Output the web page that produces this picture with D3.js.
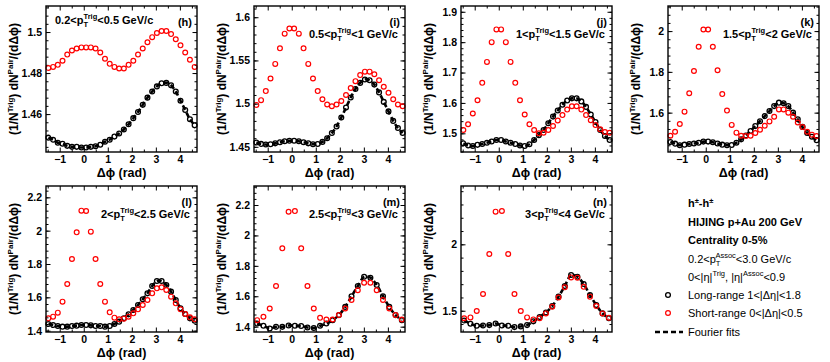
<!DOCTYPE html>
<html>
<head>
<meta charset="utf-8">
<script src="https://cdn.jsdelivr.net/npm/d3@7"></script>
<style>
  body { margin: 0; background: #fff; }
  svg { font-family: "Liberation Sans", Arial, sans-serif; }
</style>
</head>
<body>
<svg id="chart" width="830" height="362"></svg>
<script>
// delta-phi bin centres (32 and 24 bins over [-pi/2, 3pi/2])
const dphi32 = [-1.4726, -1.2763, -1.0799, -0.8836, -0.6872, -0.4909, -0.2945, -0.0982,
    0.0982, 0.2945, 0.4909, 0.6872, 0.8836, 1.0799, 1.2763, 1.4726,
    1.6690, 1.8653, 2.0617, 2.2580, 2.4544, 2.6507, 2.8471, 3.0434,
    3.2398, 3.4361, 3.6325, 3.8288, 4.0252, 4.2215, 4.4179, 4.6142];
const dphi24 = [-1.4399, -1.1781, -0.9163, -0.6545, -0.3927, -0.1309, 0.1309, 0.3927,
    0.6545, 0.9163, 1.1781, 1.4399, 1.7017, 1.9635, 2.2253, 2.4871,
    2.7489, 3.0107, 3.2725, 3.5343, 3.7961, 4.0579, 4.3197, 4.5815];

const panelTags = ['(h)', '(i)', '(j)', '(k)', '(l)', '(m)', '(n)'];
const ptLow = ['0.2', '0.5', '1', '1.5', '2', '2.5', '3'];
const ptHigh = ['0.5', '1', '1.5', '2', '2.5', '3', '4'];

// short-range (red) and long-range (black) per panel
const shortH = [1.4825, 1.483, 1.484, 1.486, 1.489, 1.491, 1.492, 1.4925, 1.4925, 1.4925, 1.492, 1.490,
    1.487, 1.4845, 1.483, 1.4822, 1.4822, 1.484, 1.486, 1.489, 1.492, 1.495, 1.4975, 1.4995,
    1.5005, 1.5005, 1.499, 1.4965, 1.4935, 1.490, 1.4865, 1.483];
const longH = [1.4485, 1.4475, 1.446, 1.4455, 1.4445, 1.444, 1.444, 1.4437, 1.4437, 1.444, 1.4443, 1.445,
    1.4465, 1.4475, 1.449, 1.4505, 1.4525, 1.455, 1.458, 1.461, 1.4645, 1.468, 1.471, 1.4735,
    1.475, 1.4752, 1.474, 1.471, 1.4665, 1.462, 1.4575, 1.4545];

const shortI = [1.4985, 1.504, 1.5145, 1.529, 1.546, 1.564, 1.581, 1.587, 1.587, 1.581, 1.564, 1.546,
    1.529, 1.5145, 1.505, 1.499, 1.497, 1.499, 1.503, 1.510, 1.518, 1.526, 1.533, 1.537,
    1.537, 1.534, 1.527, 1.5195, 1.5125, 1.505, 1.499, 1.497];
const longI = [1.455, 1.4534, 1.4526, 1.453, 1.454, 1.4553, 1.4565, 1.457, 1.457, 1.4565, 1.4553, 1.454,
    1.453, 1.4532, 1.4557, 1.460, 1.466, 1.4736, 1.484, 1.4954, 1.507, 1.517, 1.524, 1.528,
    1.527, 1.522, 1.513, 1.502, 1.491, 1.480, 1.4717, 1.466];

const shortJ = [1.511, 1.530, 1.565, 1.609, 1.666, 1.735, 1.800, 1.842, 1.842, 1.800, 1.735, 1.666,
    1.609, 1.562, 1.530, 1.511, 1.500, 1.502, 1.511, 1.524, 1.542, 1.560, 1.578, 1.589,
    1.589, 1.578, 1.560, 1.543, 1.527, 1.513, 1.504, 1.502];
const longJ = [1.467, 1.460, 1.458, 1.462, 1.465, 1.469, 1.473, 1.478, 1.478, 1.473, 1.469, 1.465,
    1.460, 1.458, 1.464, 1.478, 1.494, 1.511, 1.533, 1.555, 1.575, 1.594, 1.608, 1.615,
    1.615, 1.605, 1.587, 1.562, 1.537, 1.511, 1.491, 1.478];

const shortK = [1.487, 1.506, 1.544, 1.605, 1.695, 1.804, 1.923, 2.008, 2.008, 1.923, 1.808, 1.691,
    1.610, 1.540, 1.502, 1.487, 1.485, 1.487, 1.500, 1.516, 1.536, 1.557, 1.580, 1.616,
    1.616, 1.600, 1.580, 1.552, 1.529, 1.506, 1.492, 1.485];
const longK = [1.456, 1.448, 1.440, 1.443, 1.446, 1.449, 1.452, 1.458, 1.458, 1.455, 1.449, 1.443,
    1.440, 1.441, 1.452, 1.469, 1.488, 1.510, 1.534, 1.558, 1.583, 1.608, 1.632, 1.649,
    1.646, 1.632, 1.600, 1.567, 1.530, 1.500, 1.482, 1.465];

const shortL = [1.474, 1.484, 1.508, 1.574, 1.680, 1.830, 1.990, 2.120, 2.118, 1.994, 1.830, 1.680,
    1.574, 1.510, 1.478, 1.468, 1.472, 1.484, 1.504, 1.528, 1.554, 1.584, 1.624, 1.654,
    1.660, 1.644, 1.604, 1.564, 1.528, 1.500, 1.480, 1.468];
const longL = [1.440, 1.434, 1.428, 1.424, 1.424, 1.428, 1.430, 1.434, 1.434, 1.432, 1.428, 1.428,
    1.424, 1.428, 1.440, 1.454, 1.474, 1.498, 1.524, 1.554, 1.588, 1.624, 1.668, 1.698,
    1.698, 1.674, 1.634, 1.584, 1.534, 1.500, 1.474, 1.460];

const shortM = [1.443, 1.465, 1.520, 1.667, 1.915, 2.156, 2.160, 1.915, 1.667, 1.520, 1.458, 1.447,
    1.447, 1.476, 1.520, 1.575, 1.640, 1.689, 1.689, 1.640, 1.575, 1.520, 1.476, 1.447];
const longM = [1.421, 1.406, 1.388, 1.399, 1.399, 1.408, 1.406, 1.404, 1.395, 1.391, 1.406, 1.421,
    1.443, 1.476, 1.530, 1.600, 1.667, 1.728, 1.722, 1.674, 1.600, 1.530, 1.476, 1.443];

const shortN = [1.443, 1.450, 1.498, 1.626, 1.927, 2.246, 2.251, 1.927, 1.626, 1.498, 1.450, 1.435,
    1.443, 1.480, 1.530, 1.600, 1.676, 1.751, 1.749, 1.680, 1.606, 1.535, 1.480, 1.448];
const longN = [1.427, 1.402, 1.387, 1.389, 1.392, 1.404, 1.389, 1.387, 1.377, 1.382, 1.392, 1.420,
    1.452, 1.487, 1.535, 1.606, 1.686, 1.769, 1.756, 1.701, 1.618, 1.543, 1.480, 1.443];

const shortRange = [shortH, shortI, shortJ, shortK, shortL, shortM, shortN];
const longRange = [longH, longI, longJ, longK, longL, longM, longN];
const binSets = [dphi32, dphi32, dphi32, dphi32, dphi32, dphi24, dphi24];

const yDomains = [[1.4415, 1.5127], [1.444, 1.613], [1.4385, 1.919], [1.407, 2.123],
    [1.392, 2.268], [1.365, 2.325], [1.34, 2.439]];
const yTickVals = [[1.46, 1.48, 1.5], [1.45, 1.5, 1.55, 1.6], [1.5, 1.6, 1.7, 1.8, 1.9],
    [1.6, 1.8, 2], [1.4, 1.6, 1.8, 2, 2.2], [1.4, 1.6, 1.8, 2, 2.2], [1.5, 2]];
const yMinorStep = [0.004, 0.01, 0.02, 0.04, 0.04, 0.04, 0.1];
const xTickVals = [-1, 0, 1, 2, 3, 4];
const xDomain = [-Math.PI / 2, 3 * Math.PI / 2];

const colLeft = [46, 254, 461, 668];
const rowTop = [6, 186];
const W = 151, H = 146;
const RED = '#ff0000';
const PHI = '\u03d5';

const svg = d3.select('#chart');

// writes a run of text pieces with sub/superscripts into a <text>
function rich(text, parts) {
    parts.forEach(p => {
        const ts = text.append('tspan').text(p.t);
        if (p.size) ts.attr('font-size', p.size);
        if (p.dy) ts.attr('dy', p.dy);
        if (p.dx) ts.attr('dx', p.dx);
    });
    return text;
}

function ptLabel(lo, hi) {
    return [
        { t: lo + '<p' },
        { t: 'T', size: 7.5, dy: 3 },
        { t: 'Trig', size: 7.5, dx: -4.5, dy: -8 },
        { t: '<' + hi + ' GeV/c', dy: 5 }
    ];
}

function minorTicks(domain, step) {
    const out = [];
    for (let v = Math.ceil(domain[0] / step) * step; v <= domain[1]; v += step) {
        out.push(+v.toFixed(4));
    }
    return out;
}

panelTags.forEach((tag, i) => {
    const left = colLeft[i % 4];
    const top = rowTop[Math.floor(i / 4)];
    const g = svg.append('g').attr('transform', `translate(${left},${top})`);

    const x = d3.scaleLinear().domain(xDomain).range([0, W]);
    const y = d3.scaleLinear().domain(yDomains[i]).range([H, 0]);

    const xMinor = minorTicks(xDomain, 0.5).filter(v => !Number.isInteger(v));
    const yMinor = minorTicks(yDomains[i], yMinorStep[i]);

    const fmt = d => String(+d.toFixed(3)).replace('-', '\u2212');

    // major + minor ticks on all four sides, pointing inward
    const axes = [
        [d3.axisBottom(x).tickValues(xTickVals).tickFormat(fmt), `translate(0,${H})`, 4.5, true],
        [d3.axisBottom(x).tickValues(xMinor).tickFormat(''), `translate(0,${H})`, 2.5, false],
        [d3.axisTop(x).tickValues(xTickVals).tickFormat(''), 'translate(0,0)', 4.5, false],
        [d3.axisTop(x).tickValues(xMinor).tickFormat(''), 'translate(0,0)', 2.5, false],
        [d3.axisLeft(y).tickValues(yTickVals[i]).tickFormat(fmt), 'translate(0,0)', 4.5, true],
        [d3.axisLeft(y).tickValues(yMinor).tickFormat(''), 'translate(0,0)', 2.5, false],
        [d3.axisRight(y).tickValues(yTickVals[i]).tickFormat(''), `translate(${W},0)`, 4.5, false],
        [d3.axisRight(y).tickValues(yMinor).tickFormat(''), `translate(${W},0)`, 2.5, false]
    ];
    axes.forEach(([ax, tr, len, labelled]) => {
        const a = g.append('g').attr('transform', tr)
            .call(ax.tickSizeInner(-len).tickSizeOuter(0).tickPadding(labelled ? 4 : 0));
        a.select('.domain').remove();
        a.selectAll('line').attr('stroke', '#000').attr('stroke-width', 1);
        a.selectAll('text')
            .attr('font-family', '"Liberation Sans", Arial, sans-serif')
            .attr('font-weight', 'bold')
            .attr('font-size', 10.5)
            .attr('fill', '#000');
    });

    const bins = binSets[i];
    const longPts = bins.map((d, k) => [d, longRange[i][k]]);
    const shortPts = bins.map((d, k) => [d, shortRange[i][k]]);

    // Fourier fit drawn as a thick dashed curve through long-range points
    const fitLine = d3.line().x(d => x(d[0])).y(d => y(d[1])).curve(d3.curveCatmullRom);
    g.append('path')
        .attr('d', fitLine(longPts))
        .attr('fill', 'none')
        .attr('stroke', '#000')
        .attr('stroke-width', 2.6)
        .attr('stroke-dasharray', '5,3');

    g.append('g').selectAll('circle').data(longPts).join('circle')
        .attr('cx', d => x(d[0])).attr('cy', d => y(d[1])).attr('r', 2.4)
        .attr('fill', 'none').attr('stroke', '#000').attr('stroke-width', 1.3);

    g.append('g').selectAll('circle').data(shortPts).join('circle')
        .attr('cx', d => x(d[0])).attr('cy', d => y(d[1])).attr('r', 2.4)
        .attr('fill', 'none').attr('stroke', RED).attr('stroke-width', 1.2);

    g.append('rect').attr('width', W).attr('height', H)
        .attr('fill', 'none').attr('stroke', '#000').attr('stroke-width', 1.4);

    // panel tag and pT range
    g.append('text').attr('x', W - 5).attr('y', 20).attr('text-anchor', 'end')
        .attr('font-weight', 'bold').attr('font-size', 11).text(tag);

    const lab = g.append('text').attr('font-weight', 'bold').attr('font-size', 11);
    if (i === 0) {
        lab.attr('x', 9).attr('y', 18);
    } else {
        lab.attr('x', W - 7).attr('y', 32).attr('text-anchor', 'end');
    }
    rich(lab, ptLabel(ptLow[i], ptHigh[i]));

    // axis titles
    g.append('text').attr('x', W / 2).attr('y', H + 25).attr('text-anchor', 'middle')
        .attr('font-weight', 'bold').attr('font-size', 12.5).text('\u0394' + PHI + ' (rad)');

    const yt = g.append('text')
        .attr('transform', `translate(${-28},${H / 2}) rotate(-90)`)
        .attr('text-anchor', 'middle')
        .attr('font-weight', 'bold').attr('font-size', 12);
    rich(yt, [
        { t: '(1/N' },
        { t: 'Trig', size: 8, dy: -5 },
        { t: ') dN', dy: 5 },
        { t: 'Pair', size: 8, dy: -5 },
        { t: '/(d\u0394' + PHI + ')', dy: 5 }
    ]);
});

// legend in the empty eighth slot
const leg = svg.append('g');
const legX = 688;
const boldLines = [
    [{ t: 'h' }, { t: '\u00b1', size: 7.5, dy: -4 }, { t: '-h', dy: 4 }, { t: '\u00b1', size: 7.5, dy: -4 }],
    [{ t: 'HIJING p+Au 200 GeV' }],
    [{ t: 'Centrality 0-5%' }]
];
const boldY = [207, 226, 244];
boldLines.forEach((parts, k) => {
    rich(leg.append('text').attr('x', legX).attr('y', boldY[k])
        .attr('font-weight', 'bold').attr('font-size', 11), parts);
});

const plainLines = [
    [{ t: '0.2<p' }, { t: 'T', size: 7.5, dy: 3 }, { t: 'Assoc', size: 7.5, dx: -4.5, dy: -8 },
        { t: '<3.0 GeV/c', dy: 5 }],
    [{ t: '0<|\u03b7|' }, { t: 'Trig', size: 7.5, dy: -5 }, { t: ', |\u03b7|', dy: 5 },
        { t: 'Assoc', size: 7.5, dy: -5 }, { t: '<0.9', dy: 5 }],
    [{ t: 'Long-range 1<|\u0394\u03b7|<1.8' }],
    [{ t: 'Short-range 0<|\u0394\u03b7|<0.5' }],
    [{ t: 'Fourier fits' }]
];
const plainY = [263, 281, 299, 317, 336];
plainLines.forEach((parts, k) => {
    rich(leg.append('text').attr('x', legX).attr('y', plainY[k]).attr('font-size', 11), parts);
});

leg.append('circle').attr('cx', 668).attr('cy', 295).attr('r', 2.4)
    .attr('fill', 'none').attr('stroke', '#000').attr('stroke-width', 1.3);
leg.append('circle').attr('cx', 668).attr('cy', 313).attr('r', 2.4)
    .attr('fill', 'none').attr('stroke', RED).attr('stroke-width', 1.2);
leg.append('line').attr('x1', 655).attr('x2', 683).attr('y1', 332).attr('y2', 332)
    .attr('stroke', '#000').attr('stroke-width', 2.6).attr('stroke-dasharray', '5,3');
</script>
</body>
</html>
